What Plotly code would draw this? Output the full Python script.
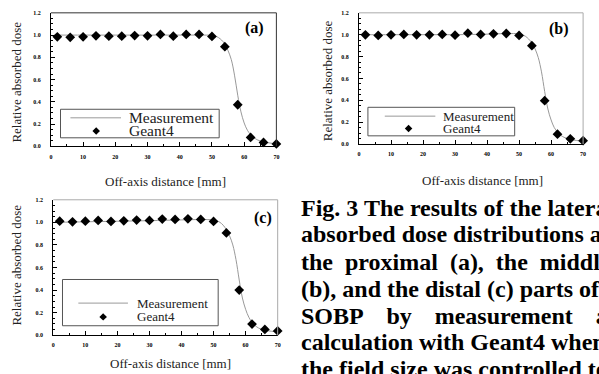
import plotly.graph_objects as go

# ---------------- data ----------------
x_geant4 = [2, 6, 10, 14, 18, 22, 26, 30, 34, 38, 42, 46, 50, 54, 58, 62, 66, 70]
geant4_a = [0.985, 0.98, 0.985, 0.994, 0.99, 0.99, 0.996, 0.994, 1.006, 0.99, 1.006, 1.006, 0.988, 0.896, 0.374, 0.08, 0.035, 0.022]
geant4_b = [0.999, 0.993, 0.999, 1.002, 0.999, 0.999, 1.002, 0.996, 1.014, 1.002, 1.008, 1.011, 0.993, 0.90, 0.396, 0.09, 0.048, 0.03]
geant4_c = [1.011, 1.005, 1.011, 1.017, 1.008, 1.014, 1.02, 1.017, 1.029, 1.026, 1.032, 1.026, 1.008, 0.906, 0.40, 0.099, 0.052, 0.038]

x_meas = [1, 10, 20, 30, 40, 46, 50, 51, 52, 53, 54, 55, 56, 57, 58, 59, 60, 61, 62, 63, 64, 65, 66, 68, 70]
meas_a = [1.0, 1.0, 1.0, 1.0, 1.0, 1.0, 0.998, 0.992, 0.978, 0.955, 0.92, 0.86, 0.78, 0.64, 0.46, 0.31, 0.21, 0.145, 0.105, 0.078, 0.06, 0.048, 0.04, 0.03, 0.022]
meas_b = [1.0, 1.0, 1.0, 1.0, 1.005, 1.01, 1.008, 1.0, 0.985, 0.96, 0.925, 0.87, 0.79, 0.66, 0.48, 0.32, 0.22, 0.15, 0.11, 0.08, 0.062, 0.05, 0.042, 0.032, 0.025]
meas_c = [1.0, 1.005, 1.01, 1.015, 1.022, 1.025, 1.022, 1.015, 1.0, 0.975, 0.935, 0.88, 0.80, 0.67, 0.49, 0.33, 0.23, 0.16, 0.115, 0.085, 0.065, 0.053, 0.045, 0.036, 0.03]

panel_labels = ["(a)", "(b)", "(c)"]
x_title = "Off-axis distance [mm]"
y_title = "Relative absorbed dose"
legend_names = ["Measurement", "Geant4"]
caption_lines = [
    "Fig. 3 The results of the lateral",
    "absorbed dose distributions at",
    "the\u00a0\u00a0proximal\u00a0\u00a0(a),\u00a0\u00a0the\u00a0\u00a0middle",
    "(b), and the distal (c) parts of",
    "SOBP\u00a0\u00a0\u00a0\u2009by\u00a0\u00a0\u00a0\u2009measurement\u00a0\u00a0\u00a0\u2009and",
    "calculation with Geant4 when",
    "the field size was controlled to",
]

W, H = 599, 374
SERIF = "Liberation Serif, Times New Roman, serif"


def PX(px):
    return px / W


def PY(py):
    return 1 - py / H


fig = go.Figure()

# panel geometry in pixels: left, right, top, bottom
panels = [
    dict(l=49.3, r=276.7, t=10.0, b=145.7, ys=geant4_a, ym=meas_a,
         lab=(254.5, 25), leg=dict(box=(59, 219, 108, 137), r1=116.7, r2=130, line=(69, 120), dia=95, tx=126, fs=15.5),
         ytit=(15, 80), xtit=(165, 181.7), border="#333"),
    dict(l=360.0, r=586.0, t=10.0, b=143.3, ys=geant4_b, ym=meas_b,
         lab=(562, 26), leg=dict(box=(369, 517, 106, 135), r1=115, r2=127.5, line=(386, 437), dia=410, tx=443, fs=13),
         ytit=(328.3, 79), xtit=(484.7, 180), border="#aaa"),
    dict(l=51.7, r=278.0, t=200.0, b=337.7, ys=geant4_c, ym=meas_c,
         lab=(263, 218.3), leg=dict(box=(61, 218, 281, 328), r1=305, r2=319, line=(77, 127), dia=102, tx=134, fs=13),
         ytit=(15, 266), xtit=(170, 366.7), border="#aaa"),
]

shapes = []
annotations = []
layout_axes = {}

for i, p in enumerate(panels):
    n = "" if i == 0 else str(i + 1)
    xa, ya = "x" + n, "y" + n
    fig.add_trace(go.Scatter(x=x_meas, y=p["ym"], mode="lines", line=dict(color="#999", width=1, shape="spline"),
                             xaxis=xa, yaxis=ya, showlegend=False, name=legend_names[0]))
    fig.add_trace(go.Scatter(x=x_geant4, y=p["ys"], mode="markers",
                             marker=dict(symbol="diamond", size=7.5, color="black"),
                             xaxis=xa, yaxis=ya, showlegend=False, name=legend_names[1], cliponaxis=False))
    common = dict(showline=True, linecolor="black", linewidth=1, ticks="inside", tickcolor="black",
                  tickwidth=1, ticklen=4, showgrid=False, zeroline=False,
                  tickfont=dict(family=SERIF, size=6, color="black", weight="bold"))
    layout_axes["xaxis" + n] = dict(common, domain=[PX(p["l"]), PX(p["r"])], anchor=ya, range=[0, 70],
                                    tickvals=[0, 10, 20, 30, 40, 50, 60, 70], ticklabelstandoff=4,
                                    minor=dict(ticks="inside", ticklen=2, dtick=5, tickcolor="black"))
    layout_axes["yaxis" + n] = dict(common, domain=[PY(p["b"]), PY(p["t"])], anchor=xa, range=[0, 1.2],
                                    tickvals=[0, 0.2, 0.4, 0.6, 0.8, 1.0, 1.2], tickformat=".1f",
                                    ticklabelstandoff=8,
                                    minor=dict(ticks="inside", ticklen=2, dtick=0.05, tickcolor="black"))
    # top / right frame
    shapes.append(dict(type="line", xref="paper", yref="paper", x0=PX(p["l"]), x1=PX(p["r"]), y0=PY(p["t"]), y1=PY(p["t"]),
                       line=dict(color=p["border"], width=1)))
    shapes.append(dict(type="line", xref="paper", yref="paper", x0=PX(p["r"]), x1=PX(p["r"]), y0=PY(p["t"]), y1=PY(p["b"]),
                       line=dict(color=p["border"], width=1)))
    # legend box
    lg = p["leg"]
    bx0, bx1, by0, by1 = lg["box"]
    shapes.append(dict(type="rect", xref="paper", yref="paper", x0=PX(bx0), x1=PX(bx1), y0=PY(by1), y1=PY(by0),
                       line=dict(color="#555", width=1), fillcolor="white"))
    shapes.append(dict(type="line", xref="paper", yref="paper", x0=PX(lg["line"][0]), x1=PX(lg["line"][1]),
                       y0=PY(lg["r1"]), y1=PY(lg["r1"]), line=dict(color="#999", width=1)))
    d = 3.8
    cx, cy = lg["dia"], lg["r2"]
    shapes.append(dict(type="path", xref="paper", yref="paper",
                       path=f"M {PX(cx)},{PY(cy - d)} L {PX(cx + d)},{PY(cy)} L {PX(cx)},{PY(cy + d)} L {PX(cx - d)},{PY(cy)} Z",
                       fillcolor="black", line=dict(color="black", width=0)))
    for txt, ry in zip(legend_names, [lg["r1"], lg["r2"]]):
        annotations.append(dict(text=txt, xref="paper", yref="paper", x=PX(lg["tx"]), y=PY(ry),
                                xanchor="left", yanchor="middle", showarrow=False,
                                font=dict(family=SERIF, size=lg["fs"], color="#222")))
    # panel label
    annotations.append(dict(text=panel_labels[i], xref="paper", yref="paper", x=PX(p["lab"][0]), y=PY(p["lab"][1]),
                            xanchor="center", yanchor="middle", showarrow=False,
                            font=dict(family=SERIF, size=16, color="black", weight="bold")))
    # axis titles
    annotations.append(dict(text=y_title, xref="paper", yref="paper", x=PX(p["ytit"][0]), y=PY(p["ytit"][1]),
                            xanchor="center", yanchor="middle", textangle=-90, showarrow=False,
                            font=dict(family=SERIF, size=13, color="#222")))
    annotations.append(dict(text=x_title, xref="paper", yref="paper", x=PX(p["xtit"][0]), y=PY(p["xtit"][1]),
                            xanchor="center", yanchor="middle", showarrow=False,
                            font=dict(family=SERIF, size=13, color="#222")))

# caption
cap_centers = [208.5, 235.2, 262.8, 290.5, 317.8, 344.5, 371.8]
for txt, cy in zip(caption_lines, cap_centers):
    annotations.append(dict(text=txt, xref="paper", yref="paper", x=PX(300), y=PY(cy),
                            xanchor="left", yanchor="middle", showarrow=False,
                            font=dict(family=SERIF, size=24, color="black", weight="bold")))

fig.update_layout(width=W, height=H, margin=dict(l=0, r=0, t=0, b=0), paper_bgcolor="white",
                  plot_bgcolor="white", showlegend=False, shapes=shapes, annotations=annotations,
                  **layout_axes)

fig.write_html("out.html")
